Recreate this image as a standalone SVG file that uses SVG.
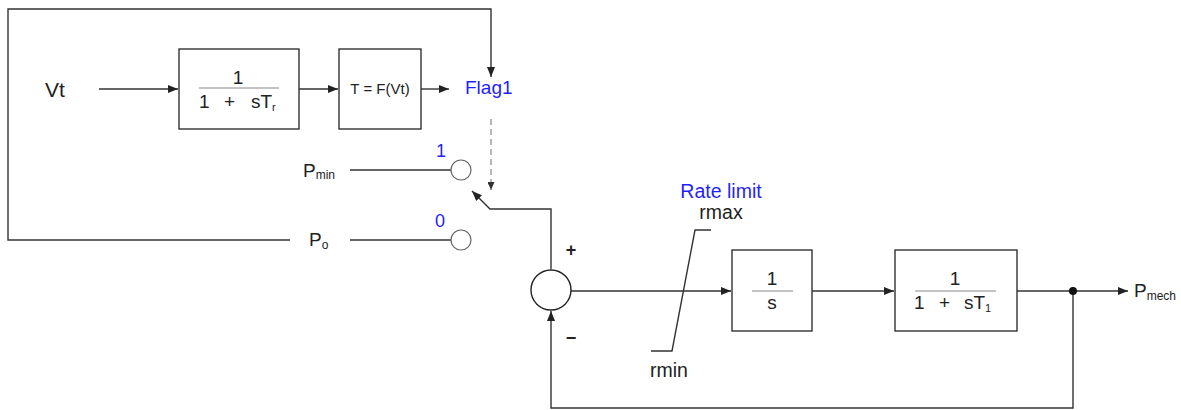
<svg xmlns="http://www.w3.org/2000/svg" width="1181" height="410" viewBox="0 0 1181 410">
<style>
  .ln{fill:none;stroke:#333;stroke-width:1.4}
  .box{fill:#fff;stroke:#333;stroke-width:1.4}
  .frac{stroke:#888;stroke-width:1.2}
  .t{font-family:"Liberation Sans",Arial,sans-serif;fill:#222}
  .blue{font-family:"Liberation Sans",Arial,sans-serif;fill:#1f1fff}
  .sw{fill:#fff;stroke:#666;stroke-width:1.2}
</style>
<defs>
  <marker id="ah" viewBox="0 0 10 8" refX="10" refY="4" markerWidth="10" markerHeight="8" markerUnits="userSpaceOnUse" orient="auto">
    <path d="M0,0 L10,4 L0,8 Z" fill="#222"/>
  </marker>
  <marker id="ahs" viewBox="0 0 8 7" refX="8" refY="3.5" markerWidth="8" markerHeight="7" markerUnits="userSpaceOnUse" orient="auto">
    <path d="M0,0 L8,3.5 L0,7 Z" fill="#333"/>
  </marker>
</defs>
<rect width="1181" height="410" fill="#fff"/>

<g id="connectors">
  <path class="ln" d="M290 240 H8 V9 H491 V77" marker-end="url(#ah)"/>
  <path class="ln" d="M99 89 H178" marker-end="url(#ah)"/>
  <path class="ln" d="M299 89 H338" marker-end="url(#ah)"/>
  <path class="ln" d="M421 89 H449" marker-end="url(#ah)"/>
  <path d="M491 119 V190" fill="none" stroke="#888" stroke-width="1.2" stroke-dasharray="6 4" marker-end="url(#ahs)"/>
  <path class="ln" d="M350 170 H451"/>
  <path class="ln" d="M350 240 H451"/>
  <path class="ln" d="M551 269 V209 H490 L472 191" marker-end="url(#ah)"/>
  <path class="ln" d="M571 291 H731" marker-end="url(#ah)"/>
  <path class="ln" d="M812 291 H894" marker-end="url(#ah)"/>
  <path class="ln" d="M1017 291 H1128" marker-end="url(#ah)"/>
  <path class="ln" d="M1073 291 V408 H551 V311" marker-end="url(#ah)"/>
  <circle cx="1073" cy="291" r="4" fill="#111"/>
</g>

<g id="vt"><text class="t" x="45" y="97" font-size="21">Vt</text></g>

<g id="lag1">
  <rect class="box" x="179" y="49" width="120" height="80"/>
  <text class="t" x="238" y="84" font-size="19" text-anchor="middle">1</text>
  <line class="frac" x1="199" y1="88" x2="279" y2="88"/>
  <text class="t" y="108" font-size="19"><tspan x="199">1</tspan><tspan x="224">+</tspan><tspan x="251">sT</tspan><tspan font-size="11" dy="3">r</tspan></text>
</g>

<g id="func">
  <rect class="box" x="339" y="49" width="82" height="80"/>
  <text class="t" x="380" y="94" font-size="15" text-anchor="middle">T = F(Vt)</text>
</g>

<g id="flag1"><text class="blue" x="465" y="94" font-size="19">Flag1</text></g>

<g id="pmin">
  <text class="t" x="303" y="177" font-size="19">P<tspan font-size="12" dy="2">min</tspan></text>
  <circle class="sw" cx="461" cy="170" r="10"/>
  <text class="blue" x="441" y="157" font-size="18" text-anchor="middle">1</text>
</g>

<g id="po">
  <text class="t" x="309" y="246" font-size="19">P<tspan font-size="12" dy="3">o</tspan></text>
  <circle class="sw" cx="461" cy="240" r="10"/>
  <text class="blue" x="440" y="227" font-size="18" text-anchor="middle">0</text>
</g>

<g id="sum">
  <circle cx="551" cy="290" r="20" fill="#fff" stroke="#222" stroke-width="1.4"/>
  <text class="t" x="571" y="256" font-size="18" font-weight="bold" text-anchor="middle">+</text>
  <text class="t" x="571" y="344" font-size="18" font-weight="bold" text-anchor="middle">−</text>
</g>

<g id="ratelimit">
  <polyline class="ln" points="651,351 672,351 695,230 711,230"/>
  <text class="blue" x="721" y="198" font-size="19.5" text-anchor="middle">Rate limit</text>
  <text class="t" x="721" y="219" font-size="19.5" text-anchor="middle">rmax</text>
  <text class="t" x="650" y="377" font-size="19.5">rmin</text>
</g>

<g id="integ">
  <rect class="box" x="732" y="250" width="80" height="81"/>
  <text class="t" x="772" y="285" font-size="19" text-anchor="middle">1</text>
  <line class="frac" x1="752" y1="291" x2="793" y2="291"/>
  <text class="t" x="772" y="309" font-size="19" text-anchor="middle">s</text>
</g>

<g id="lag2">
  <rect class="box" x="895" y="250" width="122" height="81"/>
  <text class="t" x="955" y="285" font-size="19" text-anchor="middle">1</text>
  <line class="frac" x1="915" y1="291" x2="996" y2="291"/>
  <text class="t" y="309" font-size="19"><tspan x="914">1</tspan><tspan x="939">+</tspan><tspan x="964">sT</tspan><tspan font-size="11" dy="3">1</tspan></text>
</g>

<g id="pmech"><text class="t" x="1134" y="297" font-size="19">P<tspan font-size="12" dy="3">mech</tspan></text></g>
</svg>
